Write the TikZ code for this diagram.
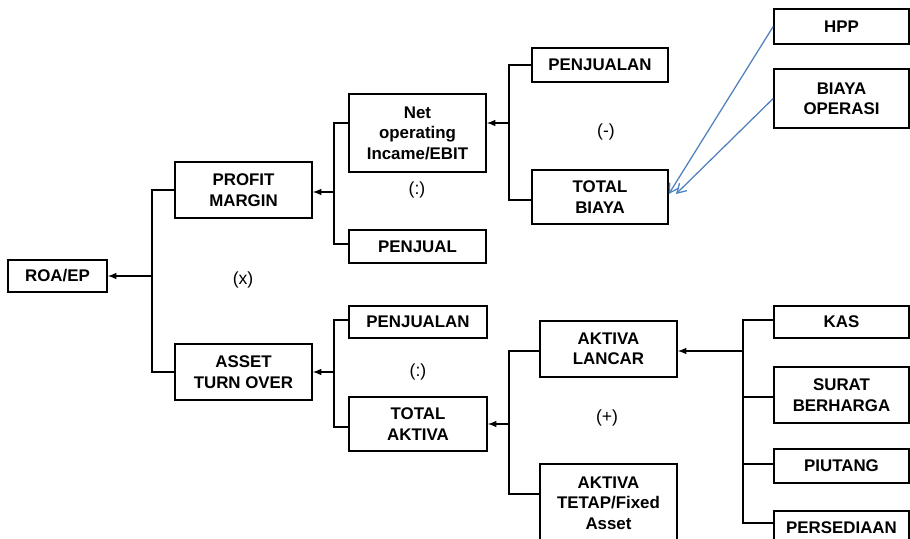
\documentclass[tikz,border=0pt]{standalone}
\usepackage{fontspec}
\setmainfont{Liberation Sans}
\usepackage{xcolor}
\definecolor{panah}{RGB}{79,129,189}
\usepackage{tikz}
\usetikzlibrary{arrows.meta}

\begin{document}
\begin{tikzpicture}
[x=0.025cm,y=-0.025cm,>=latex,
kotak/.style={rectangle,draw=black,line width=1.1pt,align=center,inner sep=0pt,
  font=\fontsize{12}{14.5}\selectfont\bfseries},
lebar/.style={minimum width=3.425cm},
kanan/.style={minimum width=3.375cm},
opr/.style={font=\fontsize{12.5}{14}\selectfont},
garis/.style={draw=black,line width=1.1pt},
biru/.style={-{Straight Barb[length=2.2mm,width=2.6mm,line width=0.9pt]},draw=panah,line width=0.9pt}]

\useasboundingbox (0,0) rectangle (910,539);

% kolom kiri
\node at (57.5,276)  [kotak,minimum width=2.475cm,minimum height=0.8cm] (roa) {ROA/EP};
\node at (243.5,190) [kotak,lebar,minimum height=1.4cm] (profit) {PROFIT\\MARGIN};
\node at (243.5,372) [kotak,lebar,minimum height=1.4cm] (asset)  {ASSET\\TURN OVER};
\node at (243,280)   [opr] (kali) {(x)};

% kolom kedua
\node at (417.5,133)   [kotak,lebar,minimum height=1.95cm]  (net)     {Net\\operating\\Incame/EBIT};
\node at (417.5,246.5) [kotak,lebar,minimum height=0.825cm] (penjual) {PENJUAL};
\node at (417,190)     [opr] (bagi1) {(:)};
\node at (418,322)     [kotak,minimum width=3.45cm,minimum height=0.8cm]  (penj2)   {PENJUALAN};
\node at (418,424)     [kotak,minimum width=3.45cm,minimum height=1.35cm] (taktiva) {TOTAL\\AKTIVA};
\node at (418,372)     [opr] (bagi2) {(:)};

% kolom ketiga
\node at (600,65)    [kotak,minimum width=3.4cm,minimum height=0.85cm] (penj1) {PENJUALAN};
\node at (600,197)   [kotak,minimum width=3.4cm,minimum height=1.35cm] (biaya) {TOTAL\\BIAYA};
\node at (606,132)   [opr] (kurang) {(-)};
\node at (608.5,349) [kotak,lebar,minimum height=1.4cm]  (lancar) {AKTIVA\\LANCAR};
\node at (608.5,503) [kotak,lebar,minimum height=1.95cm] (tetap)  {AKTIVA\\TETAP/Fixed\\Asset};
\node at (607,418)   [opr] (tambah) {(+)};

% kolom kanan
\node at (841.5,26.5) [kotak,kanan,minimum height=0.875cm] (hpp)     {HPP};
\node at (841.5,98.5) [kotak,kanan,minimum height=1.475cm] (bop)     {BIAYA\\OPERASI};
\node at (841.5,322)  [kotak,kanan,minimum height=0.8cm]   (kas)     {KAS};
\node at (841.5,395)  [kotak,kanan,minimum height=1.4cm]   (surat)   {SURAT\\BERHARGA};
\node at (841.5,466)  [kotak,kanan,minimum height=0.85cm]  (piutang) {PIUTANG};
\node at (841.5,528)  [kotak,kanan,minimum height=0.85cm]  (persed)  {PERSEDIAAN};

% titik cabang
\coordinate (j1) at (153,276);
\coordinate (j2) at (335,192);
\coordinate (j3) at (510,123);
\coordinate (j4) at (335,372);
\coordinate (j5) at (510,424);
\coordinate (j6) at (744,351);
\coordinate (ujung) at (676,194);

\draw [garis] (profit.west) -- ++(-22,0) |- (asset.west);
\draw [garis,->] (j1) -- (j1 -| roa.east);

\draw [garis] ([yshift=0.25cm]net.west) -- ++(-14,0) |- ([yshift=0.06cm]penjual.west);
\draw [garis,->] (j2) -- (j2 -| profit.east);

\draw [garis] (penj1.west) -- ++(-22,0) |- ([yshift=-0.075cm]biaya.west);
\draw [garis,->] (j3) -- (j3 -| net.east);

\draw [garis] ([yshift=0.05cm]penj2.west) -- ++(-14,0) |- ([yshift=-0.075cm]taktiva.west);
\draw [garis,->] (j4) -- (j4 -| asset.east);

\draw [garis] ([yshift=-0.05cm]lancar.west) -- ++(-30,0) |- ([yshift=0.225cm]tetap.west);
\draw [garis,->] (j5) -- (j5 -| taktiva.east);

\draw [garis] ([yshift=0.05cm]kas.west) -- ++(-30,0) |- ([yshift=0.125cm]persed.west);
\draw [garis] ([yshift=-0.05cm]surat.west) -- ++(-30,0);
\draw [garis] ([yshift=0.05cm]piutang.west) -- ++(-30,0);
\draw [garis,->] (j6) -- (j6 -| lancar.east);

\draw [biru] (hpp.west) -- ([yshift=0.075cm]biaya.east);
\draw [biru] (bop.west) -- (ujung);
\end{tikzpicture}
\end{document}
